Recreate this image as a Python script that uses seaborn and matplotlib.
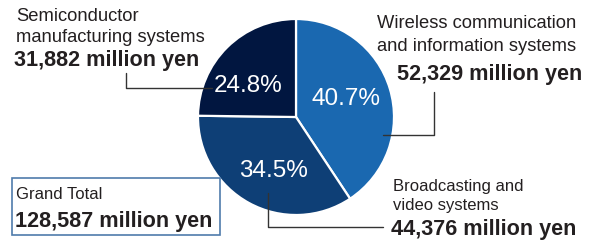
import matplotlib
matplotlib.use("Agg")
import matplotlib.pyplot as plt
import seaborn as sns
from matplotlib.patches import Rectangle

# segment data (million yen)
segments = ["Wireless communication\nand information systems",
            "Broadcasting and\nvideo systems",
            "Semiconductor\nmanufacturing systems"]
sales = [52329, 44376, 31882]
amount_labels = ["52,329 million yen", "44,376 million yen", "31,882 million yen"]
total_label = "128,587 million yen"
colors = ["#1a68b0", "#0e3f76", "#011640"]

sns.set_theme(style="white")
plt.rcParams['font.family'] = ['Liberation Sans', 'DejaVu Sans']

W, H = 601, 242
fig = plt.figure(figsize=(W / 100, H / 100), dpi=100)
ax = fig.add_axes([0, 0, 1, 1])


def yy(y):
    # image row -> axes y
    return H - y


wedges, _ = ax.pie(
    sales, colors=sns.color_palette(colors), startangle=90, counterclock=False,
    center=(296, yy(117)), radius=98,
    wedgeprops=dict(edgecolor='white', linewidth=1.6))
ax.set_xlim(0, W)
ax.set_ylim(0, H)
ax.set_aspect('auto')
ax.axis('off')

# percentage labels inside the wedges
total = sum(sales)
pct_pos = [(346, 105), (273.5, 177), (248.5, 92)]
for v, (px, py) in zip(sales, pct_pos):
    ax.text(px, yy(py), f"{100 * v / total:.1f}%", color='white',
            fontsize=17.5, ha='center', va='baseline')

# leader lines
lc = '#333333'
ax.plot([212, 126, 126], [yy(88), yy(88), yy(73)], color=lc, lw=1)
ax.plot([383, 434, 434], [yy(135), yy(135), yy(92)], color=lc, lw=1)
ax.plot([268, 268, 383], [yy(193), yy(227), yy(227)], color=lc, lw=1)

tc = '#231f20'


def label(x, baselines, lines, size, weight='normal'):
    for b, s in zip(baselines, lines):
        ax.text(x, yy(b), s, fontsize=size, fontweight=weight, color=tc,
                ha='left', va='baseline')


# segment names and amounts
label(16, [21, 42], segments[2].split("\n"), 13.2)
label(14, [66], [amount_labels[2]], 15.6, 'bold')
label(377, [28, 51], segments[0].split("\n"), 13.2)
label(397, [80], [amount_labels[0]], 15.6, 'bold')
label(393, [191, 210], segments[1].split("\n"), 12)
label(391, [235], [amount_labels[1]], 15.6, 'bold')

# grand total box
ax.add_patch(Rectangle((12, yy(235)), 208, 57, fill=False,
                       edgecolor='#4f7bab', lw=1.2))
label(16, [199], ["Grand Total"], 12)
label(15, [227], [total_label], 15.6, 'bold')

fig.savefig("out.png", dpi=100)
